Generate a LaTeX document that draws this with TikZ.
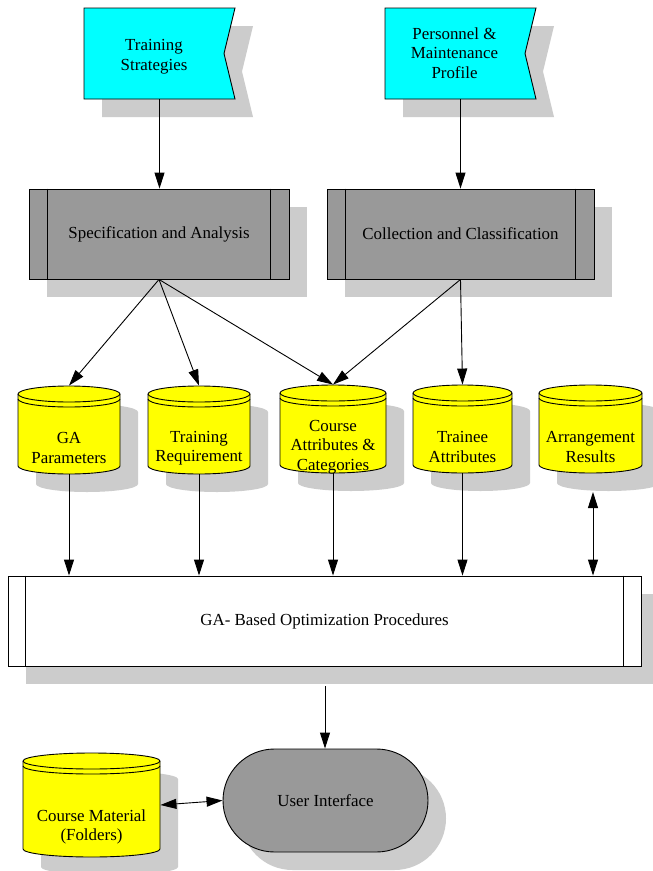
\documentclass[tikz,border=0pt]{standalone}
\usepackage{fontspec}
\setmainfont{Liberation Serif}
\usetikzlibrary{shapes.misc,arrows.meta}
\definecolor{shadowc}{HTML}{CCCCCC}
\definecolor{boxgray}{HTML}{999999}
\definecolor{flagcyan}{HTML}{00FFFF}
\definecolor{dbyellow}{HTML}{FFFF00}
\newcommand\mainfs{\fontsize{16.9}{19.5}\selectfont}

% cylinder: #1 name, #2 cx, #3 cy, #4 w, #5 h, #6 text offset, #7 text
\newcommand\dbcyl[7]{%
  \begin{scope}[shift={(#2+18,#3-18)}]
    \fill[shadowc] (-#4/2,#5/2-8) -- (-#4/2,-#5/2+8)
      arc[start angle=180,end angle=360,x radius=#4*0.5pt,y radius=8pt]
      -- (#4/2,#5/2-8)
      arc[start angle=0,end angle=180,x radius=#4*0.5pt,y radius=8pt] -- cycle;
  \end{scope}
  \begin{scope}[shift={(#2,#3)}]
    \filldraw[fill=dbyellow,draw=black] (-#4/2,#5/2-8) -- (-#4/2,-#5/2+8)
      arc[start angle=180,end angle=360,x radius=#4*0.5pt,y radius=8pt]
      -- (#4/2,#5/2-8)
      arc[start angle=0,end angle=180,x radius=#4*0.5pt,y radius=8pt] -- cycle;
    \draw (-#4/2,#5/2-8) arc[start angle=180,end angle=360,x radius=#4*0.5pt,y radius=8pt];
    \draw (-#4/2,#5/2-13) arc[start angle=180,end angle=360,x radius=#4*0.5pt,y radius=8pt];
  \end{scope}
  \node[inner sep=0pt,minimum width=#4pt,minimum height=#5pt] (#1) at (#2,#3) {};
  \node[dbtext] (#1t) at (#2,#3-#6) {#7};
}

% flag: #1 name, #2 cx, #3 cy, #4 text dx, #5 text dy, #6 text
\newcommand\flagnode[6]{%
  \fill[shadowc,shift={(#2+18,#3-18)}] (-75.5,45.5) -- (75.5,45.5) -- (64.5,0) -- (75.5,-45.5) -- (-75.5,-45.5) -- cycle;
  \filldraw[fill=flagcyan,draw=black,shift={(#2,#3)}] (-75.5,45.5) -- (75.5,45.5) -- (64.5,0) -- (75.5,-45.5) -- (-75.5,-45.5) -- cycle;
  \node[inner sep=0pt,minimum width=151pt,minimum height=91pt] (#1) at (#2,#3) {};
  \node[dbtext] (#1t) at (#2+#4,#3+#5) {#6};
}

\tikzset{
  procbox/.style={draw=black, fill=boxgray, inner sep=0pt, minimum height=90pt, font=\mainfs},
  bigbox/.style={draw=black, fill=white, inner sep=0pt, minimum width=633pt, minimum height=90pt, font=\mainfs},
  uibox/.style={rounded rectangle, draw=black, fill=boxgray, minimum width=205pt, minimum height=103pt, inner sep=0pt, font=\mainfs},
  dbtext/.style={align=center, inner sep=0pt, font=\mainfs},
  arr/.style={-{Triangle[length=16pt,width=10pt]}},
  dbl/.style={{Triangle[length=16pt,width=10pt]}-{Triangle[length=16pt,width=10pt]}},
}

\begin{document}
\begin{tikzpicture}[x=1pt,y=1pt,line width=0.9pt]
\fill[white] (0,0) rectangle (653,-871);
\useasboundingbox (0,0) rectangle (653,-871);

% flags
\flagnode{ts}{159.5}{-53.5}{-5.5}{-3}{Training\\Strategies}
\flagnode{pm}{460.5}{-53.5}{-6}{0.5}{Personnel \&\\Maintenance\\Profile}

% process boxes
\node[procbox,fill=shadowc,draw=none,minimum width=260pt] (specsh) at (177,-252) {};
\node[procbox,minimum width=260pt] (spec) at (159,-234) {Specification and Analysis};
\draw ([xshift=19pt]spec.north west) -- ([xshift=19pt]spec.south west);
\draw ([xshift=-19pt]spec.north east) -- ([xshift=-19pt]spec.south east);

\node[procbox,fill=shadowc,draw=none,minimum width=267pt] (collsh) at (478.5,-252) {};
\node[procbox,minimum width=267pt] (coll) at (460.5,-234) {Collection and Classification};
\draw ([xshift=19pt]coll.north west) -- ([xshift=19pt]coll.south west);
\draw ([xshift=-19pt]coll.north east) -- ([xshift=-19pt]coll.south east);

% data stores
\dbcyl{gap}{69}{-430}{102}{88}{18}{GA\\Parameters}
\dbcyl{treq}{199}{-430}{102}{88}{18}{Training\\Requirement}
\dbcyl{catt}{333}{-429}{106}{88}{18}{Course\\Attributes \&\\Categories}
\dbcyl{tatt}{462.5}{-429}{99}{88}{18}{Trainee\\Attributes}
\dbcyl{arres}{590.5}{-429}{103}{88}{18}{Arrangement\\Results}

% big process
\node[bigbox,fill=shadowc,draw=none] (gash) at (342.5,-639) {};
\node[bigbox] (ga) at (324.5,-621) {GA- Based Optimization Procedures};
\draw ([xshift=18pt]ga.north west) -- ([xshift=18pt]ga.south west);
\draw ([xshift=-18pt]ga.north east) -- ([xshift=-18pt]ga.south east);

% bottom
\dbcyl{cmat}{91.5}{-805}{137}{104}{22}{Course Material\\(Folders)}
\node[uibox,fill=shadowc,draw=none] (uish) at (343.5,-818.5) {};
\node[uibox] (ui) at (325.5,-800.5) {User Interface};

% connectors
\draw[arr] (ts.south) -- (ts.south |- spec.north);
\draw[arr] (pm.south) -- (pm.south |- coll.north);
\draw[arr] (spec.south) -- (gap.north);
\draw[arr] (spec.south) -- (treq.north);
\draw[arr] (spec.south) -- (catt.north);
\draw[arr] (coll.south) -- (catt.north);
\draw[arr] (coll.south) -- (tatt.north);
\draw[arr] (gap.south) -- (gap.south |- ga.north);
\draw[arr] (treq.south) -- (treq.south |- ga.north);
\draw[arr] (catt.south) -- (catt.south |- ga.north);
\draw[arr] (tatt.south) -- (tatt.south |- ga.north);
\coordinate (arrb) at (593,-492);
\draw[dbl] (arrb) -- (arrb |- ga.north);
\coordinate (gab) at (325,-686);
\draw[arr] (gab) -- (gab |- ui.north);
\draw[dbl] (cmat.east) -- (ui.west);
\end{tikzpicture}
\end{document}
